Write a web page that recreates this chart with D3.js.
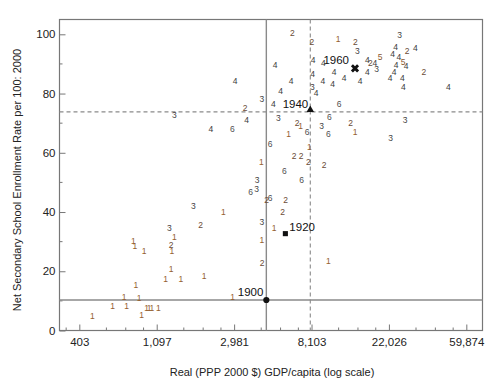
<!DOCTYPE html>
<html>
<head>
<meta charset="utf-8">
<script src="https://cdn.jsdelivr.net/npm/d3@7/dist/d3.min.js"></script>
<style>
  body { margin: 0; background: #fff; }
  text { font-family: "Liberation Sans", Arial, sans-serif; }
</style>
</head>
<body>
<svg id="chart" width="499" height="386"></svg>
<script>
// country points: digit label, GDP per capita, enrollment rate
var digits = [4,3,2,4,4,6,3,4,4,6,1,3,6,3,2,6,2,2,1,2,3,3,4,2,4,4,4,4,4,4,2,4,5,3,4,4,5,4,4,4,4,4,2,4,4,4,4,3,4,4,4,4,4,4,
              6,3,2,1,6,1,3,6,6,2,1,3,3,1,2,2,2,2,6,6,2,2,1,3,1,2,1,3,1,3,1,2,1,1,1,2,1,1,1,1,1,1,1,1,1,1,1,1,1,1,1,1,1];
var gdp = [3017,1377,3432,3509,2205,2913,4260,4945,5056,4741,4237,4007,3685,3991,4541,4741,6324,8152,11442,14270,14650,
           25330,23985,27840,30970,23084,25087,8259,9432,16660,17357,18395,19630,18765,16660,24145,26430,27470,23530,
           22340,26190,26520,34540,47420,6216,5443,8210,8184,8586,10833,9368,10653,12333,15170,
           11590,5279,6720,7044,7646,6031,9246,10200,10070,13440,14210,27120,22540,7878,6462,7073,7775,9521,5714,7137,
           5807,5586,5005,4272,4260,4287,10070,1760,2591,1292,1377,1935,810,828,933,1321,1334,1321,1232,1499,2020,839,
           720,875,621,743,963,995,1030,1120,902,477,2928];
var enroll = [84.2,72.9,75.2,71.2,68.1,68.1,78.2,76.3,89.5,63.1,56.9,50.9,46.9,47.8,44.1,44.6,100.6,97.3,98.4,97.3,94.3,
              99.6,95.8,94.4,95.4,93.2,92.4,91.3,90.4,91.3,90.2,90.4,92.3,88.3,87.4,89.5,90.5,89.2,87.3,
              85.3,85.3,82.2,87.3,82.1,84.2,81.0,86.6,82.2,80.3,87.4,84.2,83.3,85.3,84.2,
              76.4,71.9,70.1,69.1,66.9,66.3,69.1,72.1,66.3,70.1,66.9,71.2,65.0,62.1,58.8,58.8,56.8,55.7,54.0,50.9,
              44.1,39.9,34.6,36.6,30.6,22.7,23.6,41.9,39.9,34.6,31.7,35.7,30.1,28.6,26.7,28.9,26.7,20.7,17.4,17.4,18.5,15.4,
              11.4,10.9,8.3,8.3,7.5,7.5,7.5,7.5,5.2,4.9,11.2];

// historical benchmarks
var years = ["1900", "1920", "1940", "1960"];
var yearGdp = [4520, 5780, 7975, 14210];
var yearEnroll = [10.3, 32.7, 73.8, 88.5];

// axis ticks (x ticks at e^6 .. e^11)
var xTickPowers = [6, 7, 8, 9, 10, 11];
var xTickLabels = ["403", "1,097", "2,981", "8,103", "22,026", "59,874"];
var xMinorOffsets = [0.35, 0.6, 0.83];
var yTicks = [0, 20, 40, 60, 80, 100];
var yMinorTicks = [10, 30, 50, 70, 90];

var digitColor = { 1: "#94602f", 2: "#6a4c36", 3: "#444", 4: "#3a3a3a", 5: "#8a5a30", 6: "#505050" };

var margin = { top: 19.5, right: 16.5, bottom: 55.5, left: 59.5 },
    W = 499, H = 386,
    width = W - margin.left - margin.right,
    height = H - margin.top - margin.bottom;

var svg = d3.select("#chart");
var g = svg.append("g").attr("transform", "translate(" + margin.left + "," + margin.top + ")");

var x = d3.scaleLog().domain([Math.exp(5.744), Math.exp(11.209)]).range([0, width]);
var y = d3.scaleLinear().domain([0, 105]).range([height, 0]);

var axisColor = "#777";

// minor ticks
var xMinor = [];
for (var k = 5; k <= 11; k++) {
    xMinorOffsets.forEach(function (o) {
        var v = Math.exp(k + o);
        if (v > x.domain()[0] && v < x.domain()[1]) xMinor.push(v);
    });
}
g.selectAll(".xminor").data(xMinor).enter().append("line")
    .attr("x1", function (d) { return x(d); }).attr("x2", function (d) { return x(d); })
    .attr("y1", height).attr("y2", height - 3)
    .attr("stroke", axisColor).attr("stroke-width", 1);
g.selectAll(".yminor").data(yMinorTicks).enter().append("line")
    .attr("x1", 0).attr("x2", 3)
    .attr("y1", function (d) { return y(d); }).attr("y2", function (d) { return y(d); })
    .attr("stroke", axisColor).attr("stroke-width", 1);

// axes with inward ticks
var xAxis = d3.axisBottom(x)
    .tickValues(xTickPowers.map(function (p) { return Math.exp(p); }))
    .tickFormat(function (d, i) { return xTickLabels[i]; })
    .tickSize(-6).tickPadding(7);
var yAxis = d3.axisLeft(y).tickValues(yTicks).tickSize(-6).tickPadding(4);

var gx = g.append("g").attr("transform", "translate(0," + height + ")").call(xAxis);
var gy = g.append("g").call(yAxis);
[gx, gy].forEach(function (a) {
    a.select(".domain").remove();
    a.selectAll(".tick line").attr("stroke", axisColor).attr("stroke-width", 1);
    a.selectAll(".tick text").attr("fill", "#222").style("font-size", "11.5px")
        .style("font-family", "'Liberation Sans', Arial, sans-serif");
});
gy.selectAll(".tick text").attr("x", -4);

// frame
g.append("rect").attr("width", width).attr("height", height)
    .attr("fill", "none").attr("stroke", axisColor).attr("stroke-width", 1.2);

// reference lines: solid at 1900, dashed at 1940
var lineColor = "#8a8a8a";
g.append("line").attr("x1", x(yearGdp[0])).attr("x2", x(yearGdp[0])).attr("y1", 0).attr("y2", height)
    .attr("stroke", lineColor).attr("stroke-width", 1.4);
g.append("line").attr("x1", 0).attr("x2", width).attr("y1", y(yearEnroll[0])).attr("y2", y(yearEnroll[0]))
    .attr("stroke", lineColor).attr("stroke-width", 1.4);
g.append("line").attr("x1", x(yearGdp[2])).attr("x2", x(yearGdp[2])).attr("y1", 0).attr("y2", height)
    .attr("stroke", lineColor).attr("stroke-width", 1.1).attr("stroke-dasharray", "4,3");
g.append("line").attr("x1", 0).attr("x2", width).attr("y1", y(yearEnroll[2])).attr("y2", y(yearEnroll[2]))
    .attr("stroke", lineColor).attr("stroke-width", 1.1).attr("stroke-dasharray", "4,3");

// country digits
g.selectAll(".pt").data(digits).enter().append("text")
    .attr("class", "pt")
    .attr("x", function (d, i) { return x(gdp[i]); })
    .attr("y", function (d, i) { return y(enroll[i]); })
    .attr("dy", "0.35em")
    .attr("text-anchor", "middle")
    .style("font-size", "8.5px")
    .attr("fill", function (d) { return digitColor[d]; })
    .text(function (d) { return d; });

// year markers
var symbols = [d3.symbolCircle, d3.symbolSquare, d3.symbolTriangle, d3.symbolCross];
var symSize = [30, 26, 24, 42];
var symShift = [0, 0, -2, 0];
var symRot = [0, 0, 0, 45];
years.forEach(function (yr, i) {
    g.append("path")
        .attr("d", d3.symbol().type(symbols[i]).size(symSize[i])())
        .attr("transform", "translate(" + x(yearGdp[i]) + "," + (y(yearEnroll[i]) + symShift[i]) + ") rotate(" + symRot[i] + ")")
        .attr("fill", "#111");
});

var labelDx = [-3, 4, -2, -6], labelDy = [-4, -2.5, -4, -4], labelAnchor = ["end", "start", "end", "end"];
years.forEach(function (yr, i) {
    g.append("text")
        .attr("x", x(yearGdp[i]) + labelDx[i])
        .attr("y", y(yearEnroll[i]) + labelDy[i])
        .attr("text-anchor", labelAnchor[i])
        .style("font-size", "11.5px")
        .attr("fill", "#111")
        .text(yr);
});

// axis titles
svg.append("text")
    .attr("x", 272).attr("y", 375.5)
    .attr("text-anchor", "middle")
    .style("font-size", "11px")
    .attr("fill", "#222")
    .text("Real (PPP 2000 $) GDP/capita (log scale)");
svg.append("text")
    .attr("transform", "translate(21," + 180 + ") rotate(-90)")
    .attr("text-anchor", "middle")
    .style("font-size", "11px")
    .attr("fill", "#222")
    .text("Net Secondary School Enrollment Rate per 100: 2000");
</script>
</body>
</html>
